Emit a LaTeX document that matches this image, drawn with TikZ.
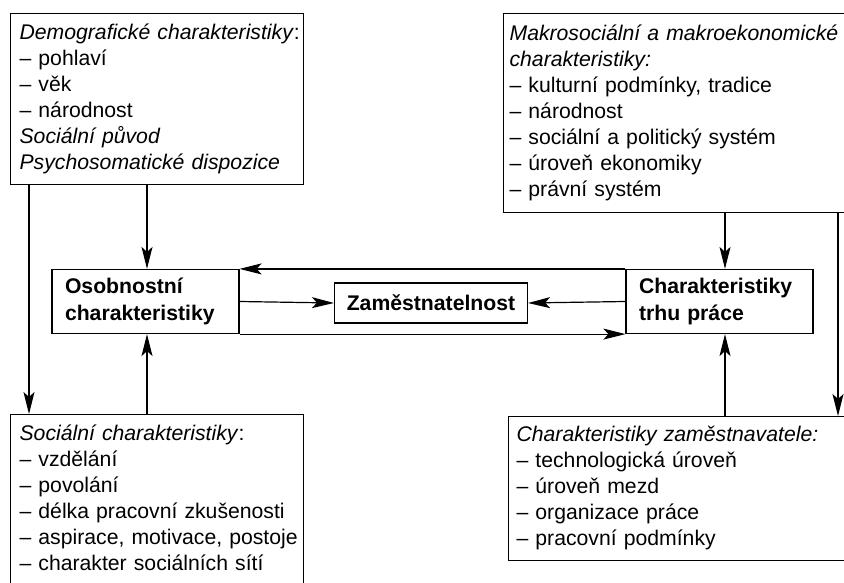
\documentclass[tikz,border=0pt]{standalone}
\usepackage{fontspec}
\setmainfont{Liberation Sans}
\newfontfamily\boldfnt{Liberation Sans Bold}
\usetikzlibrary{arrows.meta,calc}
\newcommand{\linesof}[1]{\begin{tabular}{@{}l@{}}#1\end{tabular}}
\begin{document}
\begin{tikzpicture}[x=1pt,y=1pt,
  every node/.style={font=\fontsize{21.2}{26}\selectfont},
  listbox/.style={draw,line width=1.2pt,anchor=north west,align=left,inner xsep=9pt,inner ysep=0pt},
  midbox/.style={draw,line width=1.2pt,align=left,inner sep=0pt,font=\boldfnt\fontsize{21.2}{27}\selectfont},
  conn/.style={line width=1.2pt,-{Stealth[length=22pt,width=11pt,inset=5pt]}}
]
\useasboundingbox (0,0) rectangle (844,-583);
\fill[white] (0,0) rectangle (844,-583);

\node[listbox,minimum width=293pt,minimum height=171pt,text width=275pt] (tl) at (10,-13)
{\linesof{\textit{Demografické charakteristiky}:\\
– pohlaví\\
– věk\\
– národnost\\
\textit{Sociální původ}\\
\textit{Psychosomatické dispozice}}};

\node[listbox,minimum width=345pt,minimum height=199pt,text width=333pt,inner xsep=6pt] (tr) at (503,-13)
{\linesof{\textit{Makrosociální a makroekonomické}\\
\textit{charakteristiky:}\\
– kulturní podmínky, tradice\\
– národnost\\
– sociální a politický systém\\
– úroveň ekonomiky\\
– právní systém}};

\node[listbox,minimum width=293pt,minimum height=171pt,text width=275pt] (bl) at (10,-414)
{\linesof{\textit{Sociální charakteristiky}:\\
– vzdělání\\
– povolání\\
– délka pracovní zkušenosti\\
– aspirace, motivace, postoje\\
– charakter sociálních sítí}};

\node[listbox,minimum width=340pt,minimum height=144pt,text width=324pt,inner xsep=8pt] (br) at (508,-416)
{\linesof{\textit{Charakteristiky zaměstnavatele:}\\
– technologická úroveň\\
– úroveň mezd\\
– organizace práce\\
– pracovní podmínky}};

\node[midbox,minimum width=187pt,minimum height=64pt,text width=161pt] (os) at (145.5,-301.5)
{Osobnostní\\charakteristiky};
\node[midbox,minimum width=187pt,minimum height=64pt,text width=161pt] (tp) at (719.5,-301.5)
{Charakteristiky\\trhu práce};
\node[midbox,minimum width=193pt,minimum height=40pt,align=center] (za) at (431,-303)
{Zaměstnatelnost};

\coordinate (xl1) at (29,0);
\coordinate (xl2) at (147,0);
\coordinate (xr1) at (725,0);
\coordinate (xr2) at (838,0);

\draw[conn] (xl1 |- tl.south) -- (xl1 |- bl.north);
\draw[conn] (xl2 |- tl.south) -- (xl2 |- os.north);
\draw[conn] (xl2 |- bl.north) -- (xl2 |- os.south);
\draw[conn] (xr1 |- tr.south) -- (xr1 |- tp.north);
\draw[conn] (xr1 |- br.north) -- (xr1 |- tp.south);
\draw[conn] (xr2 |- tr.south) -- (xr2 |- br.north);
\draw[conn] (tp.north west) -- (os.north east);
\draw[conn] (os.south east) -- (tp.south west);
\draw[conn] (os.east) -- (za.west);
\draw[conn] (tp.west) -- (za.east);
\end{tikzpicture}
\end{document}
